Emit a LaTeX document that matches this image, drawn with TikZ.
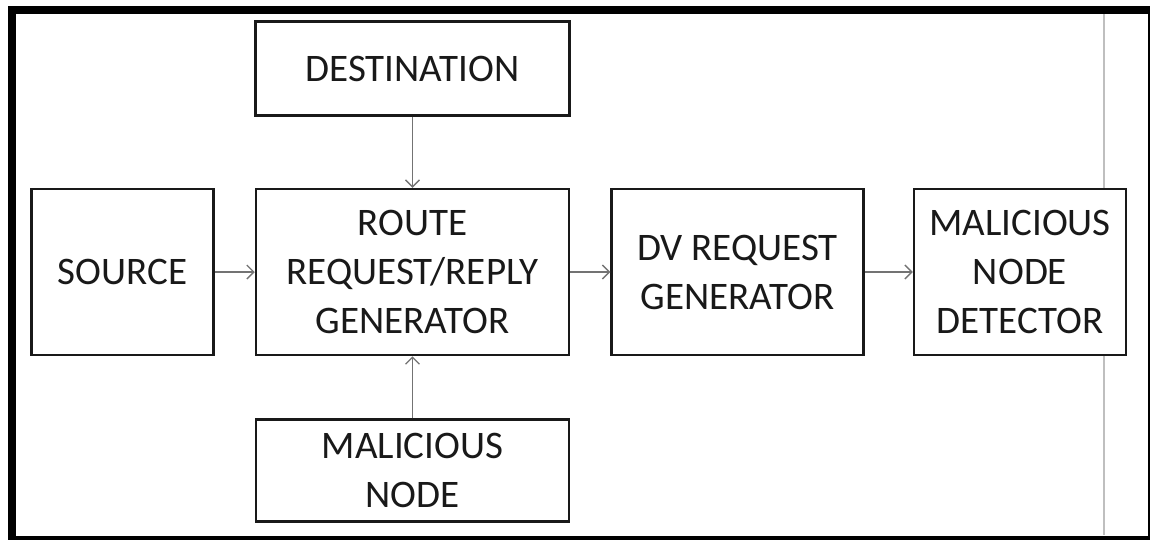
\documentclass[tikz,border=0pt]{standalone}
\usepackage{fontspec}
\setmainfont{Carlito}
\usetikzlibrary{positioning, arrows.meta}
\tikzset{
  block/.style={draw=black!90, fill=white, line width=2.5pt, align=center, inner sep=0pt,
    text=black!90, font=\fontsize{39}{49}\selectfont},
  link/.style={draw=black!55, line width=1.3pt, -{Straight Barb[length=7pt,width=14pt,line width=1.3pt]}}
}

\begin{document}
\begin{tikzpicture}
    \useasboundingbox (0,0) rectangle (1150pt,-539pt);
    % frame
    \draw[line width=8pt] (11.5pt,-10pt) rectangle (1152pt,-540pt);
    \draw[black!25, line width=1.5pt] (1104pt,-14pt) -- (1104pt,-535pt);

    \node[block, minimum width=313pt, minimum height=166pt] (route) at (412.5pt,-272pt) {ROUTE\\REQUEST/REPLY\\GENERATOR};
    \node[block, minimum width=182pt, minimum height=166pt, left=40pt of route] (source) {SOURCE};
    \node[block, minimum width=252pt, minimum height=166pt, right=40pt of route] (dv) {DV REQUEST\\GENERATOR};
    \node[block, minimum width=212pt, minimum height=166pt, right=48pt of dv] (detector) {MALICIOUS\\NODE\\DETECTOR};
    \node[block, minimum width=314pt, minimum height=94pt, above=71pt of route] (destination) {DESTINATION};
    \node[block, minimum width=313pt, minimum height=102pt, below=62pt of route] (malicious) {MALICIOUS\\NODE};

    \draw[link] (source) -- (route);
    \draw[link] (route) -- (dv);
    \draw[link] (dv) -- (detector);
    \draw[link] (destination) -- (route);
    \draw[link] (malicious) -- (route);
\end{tikzpicture}
\end{document}
